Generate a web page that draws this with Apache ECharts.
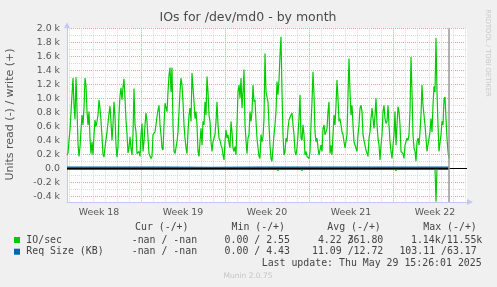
<!DOCTYPE html>
<html><head><meta charset="utf-8">
<script src="https://cdn.jsdelivr.net/npm/echarts@6/dist/echarts.min.js"></script>
<style>html,body{margin:0;padding:0;background:#f0f0f0}#c{width:497px;height:287px}</style>
</head><body><div id="c"></div>
<script>
// ---- texts / ticks ----
const chartTitle = 'IOs for /dev/md0 - by month';
const yAxisTitle = 'Units read (-) / write (+)';
const weekLabels = ['Week 18', 'Week 19', 'Week 20', 'Week 21', 'Week 22'];
const weekLabelHours = [84, 252, 420, 588, 756];      // hours since Mon Apr 28 00:00 (mid-week)
const weekStartHours = [168, 336, 504, 672];
const yLabelValues = [-0.4, -0.2, 0, 0.2, 0.4, 0.6, 0.8, 1.0, 1.2, 1.4, 1.6, 1.8, 2.0];
const yMinorValues = [-0.3, -0.1, 0.1, 0.3, 0.5, 0.7, 0.9, 1.1, 1.3, 1.5, 1.7, 1.9];

// ---- data (k IO/sec), one sample per 2 hours ----
const startHour = 20, stepHours = 2;
const ioWrite = [
  0.19,0.22,0.40,0.55,0.80,1.05,1.29,0.90,0.70,1.30,
  0.85,0.35,0.17,0.30,0.55,0.76,0.62,0.86,1.29,1.19,
  0.81,0.62,0.81,0.43,0.21,0.38,0.19,0.48,0.69,0.60,
  0.67,0.76,0.98,0.86,0.68,0.45,0.20,0.16,0.30,0.31,
  0.52,0.52,0.78,0.89,0.66,0.40,0.63,0.95,0.74,0.33,
  0.16,0.31,0.78,1.03,1.15,0.98,1.16,1.28,0.99,0.69,
  0.49,0.22,0.30,0.45,0.28,
  0.19,0.48,1.14,0.62,0.52,0.21,0.19,0.24,0.17,0.48,
  0.64,0.24,0.38,0.62,0.79,0.67,0.43,0.21,0.19,0.14,
  0.17,0.48,0.50,0.52,0.62,0.74,0.83,0.90,0.62,0.48,
  0.29,0.26,0.62,0.93,0.95,0.81,1.09,1.33,1.44,1.09,
  1.44,0.62,0.24,0.21,0.19,0.38,0.52,0.81,1.09,1.29,
  1.19,0.95,0.62,0.43,0.29,0.21,0.52,0.76,0.86,0.67,
  1.36,1.36,0.95,0.71,0.81,0.62,
  0.24,0.17,0.38,0.57,0.33,0.67,0.62,0.95,0.76,1.31,
  1.09,0.76,0.67,0.38,0.24,0.38,0.43,0.48,0.67,0.95,
  0.62,0.43,0.40,0.33,0.29,0.19,0.12,0.38,0.55,0.43,
  0.48,0.36,0.29,0.67,0.52,0.29,0.24,0.31,0.19,0.62,
  1.09,1.19,1.00,1.29,0.86,1.09,1.41,0.62,0.40,0.21,
  0.43,0.48,0.81,0.67,0.81,1.19,0.95,0.98,0.67,0.43,
  0.29,0.17,0.14,0.48,0.38,0.45,
  0.71,1.64,1.09,1.07,0.95,0.62,0.33,0.14,0.10,0.29,
  0.48,0.62,0.81,1.24,1.05,1.26,1.62,
  1.88,1.09,0.48,0.19,0.24,0.43,0.38,0.57,0.69,0.67,
  0.76,0.79,0.62,0.48,0.24,0.19,0.29,0.48,0.71,1.05,
  0.43,0.40,0.62,0.48,0.19,0.24,0.17,0.19,0.14,0.24,
  0.62,0.95,1.38,1.05,0.52,0.38,0.43,0.29,0.19,0.21,
  0.33,0.24,0.57,0.62,0.48,0.52,0.57,0.81,0.95,
  0.21,0.33,0.19,0.48,0.76,0.62,0.90,1.26,1.00,0.67,
  0.71,0.62,0.52,0.48,0.38,0.29,0.31,0.48,1.05,1.57,
  1.09,0.76,0.90,0.62,0.38,0.36,0.38,0.24,0.48,0.62,
  0.86,0.90,0.81,0.48,0.40,0.38,0.26,0.24,0.17,0.43,
  0.52,0.71,0.86,0.71,0.57,0.76,1.00,0.62,0.43,0.33,
  0.12,0.33,0.48,0.81,0.90,0.71,0.64,0.67,0.90,0.62,
  0.38,0.24,0.14,0.33,0.48,0.81,
  0.33,0.62,0.88,0.81,0.62,0.24,0.26,0.21,0.14,0.33,
  0.38,0.43,0.40,0.48,0.81,1.59,1.09,0.48,0.29,0.24,
  0.10,0.38,0.43,0.33,0.52,0.76,1.19,0.90,0.76,0.62,
  0.43,0.24,0.26,0.24,0.52,0.71,0.52,0.90,1.17,1.09,
  1.86,1.09,0.62,0.24,0.26,0.48,0.67,0.62,0.98,1.02,
  0.71,0.43,0.24,0.14
];
// read side (drawn negative), sample index -> value
const ioReadIdx = [0, 210, 211, 212, 234, 235, 236, 328, 329, 330, 368, 369, 370, 382];
const ioReadVal = [0, 0, -0.034, 0, 0, -0.034, 0, 0, -0.034, 0, 0, -0.477, 0, 0];
// request size (KB), shown in k units
const reqIdx = [0, 48, 96, 144, 192, 240, 288, 336, 382];
const reqWrite = [12.9, 12.6, 12.8, 12.5, 12.9, 12.7, 12.6, 12.8, 12.7];
const reqRead = [-11.2, -10.9, -11.1, -11.0, -11.3, -10.9, -11.1, -11.0, -11.1];

// ---- legend table ----
const legendHeader = ['Cur (-/+)', 'Min (-/+)', 'Avg (-/+)', 'Max (-/+)'];
const legendNames = ['IO/sec', 'Req Size (KB)'];
const legendColors = ['#00cc00', '#0066b3'];
const legendCur = ['-nan / -nan', '-nan / -nan'];
const legendMin = ['0.00 / 2.55', '0.00 / 4.43'];
const legendAvg = ['4.22 361.80', '11.09 /12.72'];
const legendMax = ['1.14k/11.55k', '103.11 /63.17'];
const lastUpdate = 'Last update: Thu May 29 15:26:01 2025';
const watermark = 'Munin 2.0.75';
const sideText = 'RRDTOOL / TOBI OETIKER';

// ---- build ----
const writeData = ioWrite.map((v, i) => [startHour + i * stepHours, v]);
const readData = ioReadIdx.map((k, i) => [startHour + k * stepHours, ioReadVal[i]]);
const reqWData = reqIdx.map((k, i) => [startHour + k * stepHours, reqWrite[i] / 1000]);
const reqRData = reqIdx.map((k, i) => [startHour + k * stepHours, reqRead[i] / 1000]);
const lastHour = startHour + (ioWrite.length - 1) * stepHours;
const xDayHours = [];
for (let d = 1; d <= 34; d++) if (d % 7 !== 0) xDayHours.push(d * 24);

const RED = '#e8a0a0', GRAY = '#d9d9d9', AXIS = '#c3c8f0';
const MONO = '"DejaVu Sans Mono", monospace', SANS = '"DejaVu Sans", sans-serif';
const TXT = '#444';
const XMIN = 20, XMAX = 820, YMIN = -0.48, YMAX = 2.0;

function mtext(x, y, s, align, extra) {
  return { type: 'text', x: x, y: y, silent: true,
    style: Object.assign({ text: s, fill: TXT, fontSize: 9.9, fontFamily: MONO,
      align: align || 'left', verticalAlign: 'middle' }, extra || {}) };
}

const graphics = [
  { type: 'text', x: 248, y: 18, silent: true,
    style: { text: chartTitle, fill: '#4a4a4a', fontSize: 12.5, fontFamily: SANS, align: 'center', verticalAlign: 'middle' } },
  { type: 'text', x: 10, y: 114.5, rotation: Math.PI / 2, silent: true,
    style: { text: yAxisTitle, fill: '#555', fontSize: 11, fontFamily: SANS, align: 'center', verticalAlign: 'middle' } },
  { type: 'text', x: 488, y: 53, rotation: -Math.PI / 2, silent: true,
    style: { text: sideText, fill: '#c8c8c8', fontSize: 6.8, fontFamily: SANS, align: 'center', verticalAlign: 'middle' } },
  mtext(135, 227.3, legendHeader[0]),
  mtext(285, 227.3, legendHeader[1], 'right'),
  mtext(327.3, 227.3, legendHeader[2]),
  mtext(423.3, 227.3, legendHeader[3]),
  mtext(261.7, 263.3, lastUpdate),
  { type: 'text', x: 248, y: 276, silent: true,
    style: { text: watermark, fill: '#c4c4c4', fontSize: 7.5, fontFamily: SANS, align: 'center', verticalAlign: 'middle' } }
];
const rowY = [240, 251.7];
legendNames.forEach((n, i) => {
  graphics.push({ type: 'rect', silent: true, shape: { x: 14, y: rowY[i] - 3, width: 6, height: 6 }, style: { fill: legendColors[i] } });
  graphics.push(mtext(26.3, rowY[i], n));
  graphics.push(mtext(131.7, rowY[i], legendCur[i]));
  graphics.push(mtext(290, rowY[i], legendMin[i], 'right'));
  graphics.push(mtext(383.3, rowY[i], legendAvg[i], 'right'));
  graphics.push(mtext(i === 0 ? 482.3 : 476.7, rowY[i], legendMax[i], 'right'));
});
// overlapping slash of the avg column (as in the original)
graphics.push(mtext(383.3 - 6 * 5.96, rowY[0], '/'));

const chart = echarts.init(document.getElementById('c'), null, { renderer: 'canvas' });
chart.setOption({
  backgroundColor: '#f0f0f0',
  animation: false,
  grid: { left: 67, right: 30, top: 28.3, bottom: 85.1, show: true, backgroundColor: '#ffffff', borderWidth: 0 },
  xAxis: [{
    type: 'value', min: XMIN, max: XMAX,
    axisLine: { show: true, onZero: false, lineStyle: { color: AXIS, width: 1 },
      symbol: ['none', 'triangle'], symbolSize: [6, 6], symbolOffset: [0, 3] },
    axisTick: { show: false, customValues: xDayHours },
    splitLine: { show: true, lineStyle: { color: GRAY, type: [1, 1], width: 1 } },
    axisLabel: { show: true, customValues: weekLabelHours, margin: 6, color: '#555', fontSize: 9.4, fontFamily: SANS,
      formatter: v => weekLabels[weekLabelHours.indexOf(v)] || '' }
  }, {
    type: 'value', min: XMIN, max: XMAX, position: 'bottom',
    axisLine: { show: false }, axisLabel: { show: false },
    axisTick: { show: false, customValues: weekStartHours },
    splitLine: { show: true, lineStyle: { color: RED, type: [1, 1], width: 1 } }
  }],
  yAxis: [{
    type: 'value', min: YMIN, max: YMAX,
    axisLine: { show: true, onZero: false, lineStyle: { color: AXIS, width: 1 },
      symbol: ['none', 'triangle'], symbolSize: [6, 6], symbolOffset: [0, 3] },
    axisTick: { show: false, customValues: yMinorValues },
    splitLine: { show: true, lineStyle: { color: GRAY, type: [1, 1], width: 1 } },
    axisLabel: { show: true, customValues: yLabelValues, margin: 7, color: '#555', fontSize: 9.4, fontFamily: SANS,
      formatter: v => Math.abs(v) < 1e-9 ? '0.0' : (v.toFixed(1) + ' k') }
  }, {
    type: 'value', min: YMIN, max: YMAX, position: 'left',
    axisLine: { show: false }, axisLabel: { show: false },
    axisTick: { show: false, customValues: yLabelValues },
    splitLine: { show: true, lineStyle: { color: RED, type: [1, 1], width: 1 } }
  }],
  series: [
    { type: 'line', data: writeData, showSymbol: false, symbol: 'none', lineStyle: { color: '#00cc00', width: 1.2 }, z: 3 },
    { type: 'line', data: readData, showSymbol: false, symbol: 'none', lineStyle: { color: '#00cc00', width: 1.2 }, z: 3 },
    { type: 'line', data: reqWData, showSymbol: false, symbol: 'none', lineStyle: { color: '#0066b3', width: 1.6 }, z: 4 },
    { type: 'line', data: reqRData, showSymbol: false, symbol: 'none', lineStyle: { color: '#0066b3', width: 1.6 }, z: 4,
      markLine: { silent: true, symbol: 'none', label: { show: false }, animation: false,
        data: [
          { yAxis: 0, lineStyle: { color: '#000000', width: 1, type: 'solid' } },
          { xAxis: lastHour, lineStyle: { color: '#999999', width: 1.5, type: 'solid' } }
        ] } }
  ],
  graphic: graphics
});
</script></body></html>
